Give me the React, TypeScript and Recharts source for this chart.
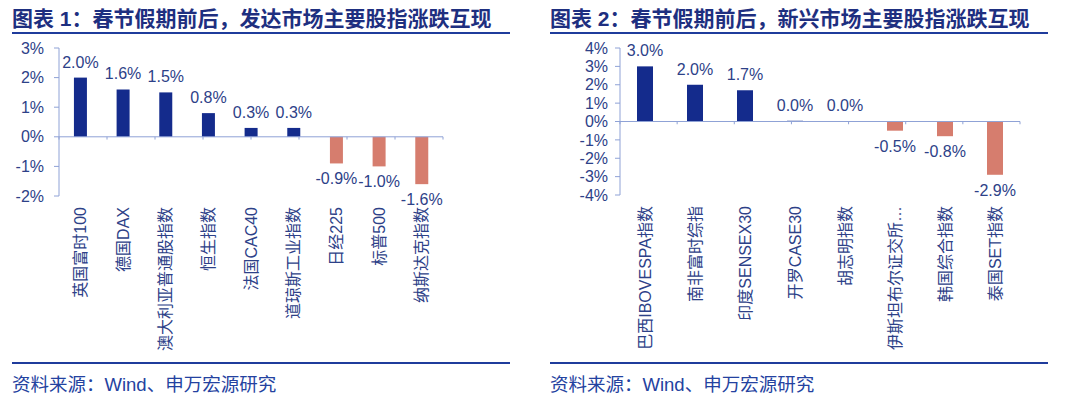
import React from 'react';
import { BarChart, Bar, XAxis, YAxis, Cell, LabelList, ReferenceLine } from 'recharts';

const leftCategories = ['英国富时100', '德国DAX', '澳大利亚普通股指数', '恒生指数', '法国CAC40', '道琼斯工业指数', '日经225', '标普500', '纳斯达克指数'];
const leftValues = [2.0, 1.6, 1.5, 0.8, 0.3, 0.3, -0.9, -1.0, -1.6];
const leftTicks = [3, 2, 1, 0, -1, -2];

const rightCategories = ['巴西IBOVESPA指数', '南非富时综指', '印度SENSEX30', '开罗CASE30', '胡志明指数', '伊斯坦布尔证交所…', '韩国综合指数', '泰国SET指数'];
const rightValues = [3.0, 2.0, 1.7, 0.04, 0.004, -0.5, -0.8, -2.9];
const rightTicks = [4, 3, 2, 1, 0, -1, -2, -3, -4];

const leftTitle = '图表 1：春节假期前后，发达市场主要股指涨跌互现';
const rightTitle = '图表 2：春节假期前后，新兴市场主要股指涨跌互现';
const sourceText = '资料来源：Wind、申万宏源研究';

const FONT = '"Liberation Sans", Arial, "Noto Sans CJK SC", sans-serif';
const TEXT = '#2d4188';
const AXIS = '#8fa2d6';
const POS = '#142b8c';
const NEG = '#d67d6e';
const RULE = '#1f3c9c';

type PanelProps = {
  title: string;
  categories: string[];
  values: number[];
  ticks: number[];
  panelLeft: number;
  ruleLeft: number;
  margin: { top: number; bottom: number; left: number; right: number };
  gap: string;
  yTickMargin: number;
};

const CatTick = (props: any) => {
  const { x, y, payload } = props;
  return (
    <text
      x={x}
      y={y}
      transform={`rotate(-90, ${x}, ${y})`}
      textAnchor="end"
      dominantBaseline="central"
      fill={TEXT}
      fontSize={16}
      fontFamily={FONT}
    >
      {payload.value}
    </text>
  );
};

const ValueLabel = (props: any) => {
  const { x, y, width, height, value } = props;
  const top = Math.min(y, y + height);
  const bottom = Math.max(y, y + height);
  const cx = x + width / 2;
  const ty = value >= 0 ? top - 10 : bottom + 21;
  return (
    <text x={cx} y={ty} textAnchor="middle" fill={TEXT} fontSize={16} fontFamily={FONT}>
      {`${Number(value).toFixed(1)}%`}
    </text>
  );
};

const Panel = ({ title, categories, values, ticks, panelLeft, ruleLeft, margin, gap, yTickMargin }: PanelProps) => {
  const data = categories.map((name, i) => ({ name, value: values[i] }));
  const yMax = Math.max(...ticks);
  const yMin = Math.min(...ticks);
  const chartH = 370;
  const plotH = chartH - margin.top - margin.bottom;
  const tickDelta = ((yMax - yMin) * 5) / plotH;
  const n = categories.length;
  const boundaries = Array.from({ length: n + 1 }, (_, i) => i);
  return (
    <div style={{ position: 'absolute', left: panelLeft, top: 0, width: 540, height: 409 }}>
      <div
        style={{
          position: 'absolute',
          left: ruleLeft,
          top: 7,
          fontSize: 21,
          lineHeight: '24px',
          fontWeight: 'bold',
          color: '#1e2f80',
          fontFamily: FONT,
          whiteSpace: 'nowrap',
        }}
      >
        {title}
      </div>
      <div style={{ position: 'absolute', left: ruleLeft, top: 32, width: 498, height: 2, background: RULE }} />
      <div style={{ position: 'absolute', left: 0, top: 0 }}>
        <BarChart width={540} height={chartH} data={data} margin={margin} barCategoryGap={gap}>
          <XAxis
            xAxisId="cat"
            dataKey="name"
            type="category"
            axisLine={false}
            tickLine={false}
            tickSize={0}
            tickMargin={11}
            height={120}
            interval={0}
            tick={<CatTick />}
          />
          <XAxis xAxisId="grid" type="number" domain={[0, n]} allowDataOverflow hide />
          <YAxis
            domain={[yMin, yMax]}
            ticks={ticks}
            interval={0}
            width={45}
            tickFormatter={(v: number) => `${v}%`}
            axisLine={{ stroke: AXIS, strokeWidth: 1 }}
            tickLine={{ stroke: AXIS, strokeWidth: 1 }}
            tickSize={5}
            tickMargin={yTickMargin}
            tick={{ fill: TEXT, fontSize: 16, fontFamily: FONT }}
          />
          <ReferenceLine xAxisId="cat" y={0} stroke={AXIS} strokeWidth={1} />
          {boundaries.map((b) => (
            <ReferenceLine
              key={b}
              xAxisId="grid"
              segment={[
                { x: b, y: 0 },
                { x: b, y: -tickDelta },
              ]}
              stroke={AXIS}
              strokeWidth={1}
            />
          ))}
          <Bar xAxisId="cat" dataKey="value" isAnimationActive={false}>
            {data.map((d, i) => (
              <Cell key={i} fill={d.value >= 0 ? POS : NEG} />
            ))}
            <LabelList dataKey="value" content={<ValueLabel />} />
          </Bar>
        </BarChart>
      </div>
      <div style={{ position: 'absolute', left: ruleLeft, top: 362, width: 498, height: 2, background: RULE }} />
      <div
        style={{
          position: 'absolute',
          left: ruleLeft,
          top: 374,
          fontSize: 18.5,
          lineHeight: '22px',
          color: '#2442a0',
          fontFamily: FONT,
          whiteSpace: 'nowrap',
        }}
      >
        {sourceText}
      </div>
    </div>
  );
};

export default function App() {
  return (
    <div style={{ position: 'absolute', left: 0, top: 0, width: 1080, height: 409, background: '#fff', overflow: 'hidden' }}>
      <Panel
        title={leftTitle}
        categories={leftCategories}
        values={leftValues}
        ticks={leftTicks}
        panelLeft={0}
        ruleLeft={12}
        margin={{ top: 48, bottom: 54, left: 14, right: 97 }}
        gap="35%"
        yTickMargin={10}
      />
      <Panel
        title={rightTitle}
        categories={rightCategories}
        values={rightValues}
        ticks={rightTicks}
        panelLeft={540}
        ruleLeft={10}
        margin={{ top: 48, bottom: 55, left: 35, right: 60 }}
        gap="34%"
        yTickMargin={7}
      />
    </div>
  );
}
